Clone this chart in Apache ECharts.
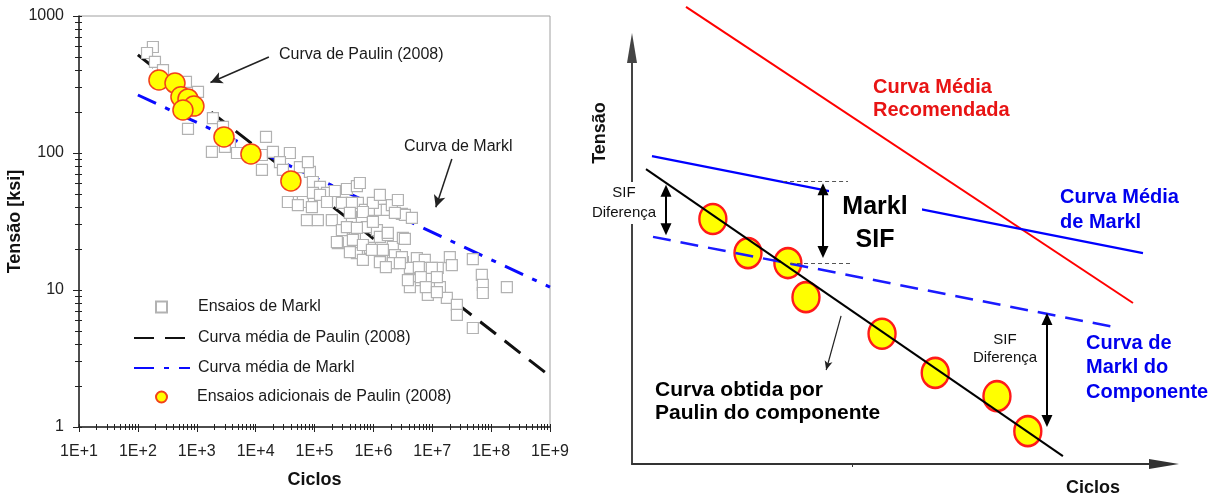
<!DOCTYPE html>
<html>
<head>
<meta charset="utf-8">
<script src="https://cdn.jsdelivr.net/npm/echarts@6/dist/echarts.min.js"></script>
<style>
  html, body { margin: 0; padding: 0; background: #fff; }
  #chart { width: 1219px; height: 497px; }
</style>
</head>
<body>
<div id="chart"></div>
<script>
// ---------- S-N data (left panel): [cycles, stress in ksi] ----------
const marklTests = [
  [180, 594], [143, 537], [195, 462], [267, 403], [656, 330], [1050, 279],
  [710, 150], [1880, 180], [2790, 155], [1810, 102], [3660, 114], [4820, 100],
  [3010, 111], [15000, 131], [12800, 96.7], [19700, 102], [38200, 100], [25900, 85.9],
  [12800, 75.2], [29100, 75.2], [56500, 79.0], [83600, 72.7], [77300, 85.9], [94000, 61.4],
  [1.24e5, 56.5], [42900, 43.9], [63500, 43.9], [94000, 51.1], [1.63e5, 51.1], [2.22e5, 52.8],
  [3.55e5, 54.6], [5.25e5, 57.4], [35300, 43.9], [52200, 41.7], [90300, 40.3], [1.24e5, 49.4],
  [1.63e5, 43.9], [74300, 32.4], [1.14e5, 32.4], [1.97e5, 32.4], [2.49e5, 22.0], [2.92e5, 27.4],
  [4.32e5, 31.4], [5.46e5, 43.2], [6.38e5, 34.1], [7.18e5, 38.4], [9.82e5, 38.4], [1.29e6, 38.4],
  [1.69e6, 38.4], [2.06e6, 41.7], [3.05e6, 35.9], [7.76e5, 28.8], [1.15e6, 27.4], [4.85e5, 24.0],
  [5.25e5, 18.6], [8.73e5, 20.3], [1.29e6, 24.4], [1.76e6, 25.2], [2.14e6, 20.6], [3.17e6, 24.0],
  [2.14e6, 17.4], [3.17e6, 16.0], [1.29e6, 16.0], [6.64e5, 16.6], [3.99e5, 18.9], [2.92e5, 43.2],
  [4.32e5, 43.2], [9.82e5, 43.2], [3.43e6, 35.3], [2.32e6, 36.5], [6.64e5, 37.1], [3.99e5, 36.5],
  [3.55e5, 28.8], [5.25e5, 28.4], [9.82e5, 31.4], [1.76e6, 26.1], [3.43e6, 23.6], [2.40e5, 22.4],
  [4.49e5, 23.2], [6.64e5, 21.3], [9.44e5, 19.6], [1.45e6, 19.6], [2.32e6, 18.0], [2.14e6, 15.7],
  [5.48e6, 17.1], [7.48e6, 16.6], [1.24e7, 14.5], [1.99e7, 17.4], [2.15e7, 15.2], [4.89e7, 16.8],
  [6.95e7, 12.9], [7.23e7, 10.9], [7.23e7, 9.51], [1.85e8, 10.5], [4.17e6, 14.5], [6.92e6, 14.5],
  [8.09e6, 12.2], [5.07e6, 11.8], [9.10e6, 10.5], [8.41e6, 9.20], [1.35e7, 10.5], [1.77e7, 8.75],
  [2.62e7, 7.78], [2.62e7, 6.58], [4.89e7, 5.28], [4.17e6, 10.5], [3.05e6, 17.4], [1.63e6, 14.7],
  [2.82e6, 15.7], [3.86e6, 11.8], [5.92e6, 14.7], [9.84e6, 14.5], [6.40e6, 12.4], [1.20e7, 12.4],
  [7.78e6, 10.5], [1.20e7, 9.66], [5.90e5, 60.4], [1.29e6, 49.4], [2.61e6, 45.4], [4.51e6, 33.6]
];
const paulinTests = [
  [228, 341], [427, 324], [539, 257], [710, 248], [896, 220], [583, 206],
  [2900, 131], [8320, 98.4], [39700, 62.5]
];
const paulinMeanCurve = [[1e2, 520], [1e9, 2.35]];
const marklMeanCurve = [[1e2, 265], [1e9, 10.5]];

// annotation arrows (left panel), [from, to] in cycles / ksi
const paulinPointer = [[16800, 502], [1710, 327]];
const marklPointer = [[2.15e7, 90.3], [1.15e7, 40.2]];

// ticks of the log axes
const xDecades = [1e1, 1e2, 1e3, 1e4, 1e5, 1e6, 1e7, 1e8, 1e9];
const xTickLabels = ['1E+1', '1E+2', '1E+3', '1E+4', '1E+5', '1E+6', '1E+7', '1E+8', '1E+9'];
const yDecades = [1, 10, 100, 1000];
const yTickLabels = ['1', '10', '100', '1000'];

// ---------- Schematic (right panel), axes in arbitrary units 0..100 ----------
const recommendedCurve = [[10.15, 109.9], [94.17, 38.7]];
const marklMeanSchematic = [[3.76, 74.0], [96.05, 50.7]];
const marklComponentCurve = [[3.95, 54.6], [91.54, 32.7]];
const paulinComponentCurve = [[2.63, 70.9], [81.0, 1.9]];
const componentTests = [
  [15.2, 58.9], [21.8, 50.7], [29.3, 48.3], [32.7, 40.1],
  [47.0, 31.3], [57.0, 21.9], [68.6, 16.3], [74.4, 7.9]
];
const sifGuides = [
  [[28.4, 68.0], [40.6, 68.0]],
  [[29.7, 48.3], [41.4, 48.3]]
];
const sifArrows = [
  [[6.39, 67.1], [6.39, 55.0]],
  [[35.9, 67.5], [35.9, 49.5]],
  [[78.0, 36.3], [78.0, 8.9]]
];
const curvePointer = [[39.3, 35.6], [36.5, 22.6]];

// ---------- helpers ----------
const FONT = '"Liberation Sans", Arial, sans-serif';
const minorOf = (decades) => {
  const out = [];
  for (let i = 0; i < decades.length - 1; i++) {
    for (let k = 2; k <= 9; k++) out.push(decades[i] * k);
  }
  return out;
};
const xMinor = minorOf(xDecades);
const yMinor = minorOf(yDecades);
const labelFor = (decades, labels) => (v) => {
  const lv = Math.log10(v);
  const i = decades.findIndex(d => Math.abs(Math.log10(d) - lv) < 1e-6);
  return i >= 0 ? labels[i] : '';
};

// right grid geometry (px) used to set arrow-head insets
const RIGHT_GRID = { left: 632, top: 48, right: 55, bottom: 33 };
const RIGHT_H = 497 - RIGHT_GRID.top - RIGHT_GRID.bottom;
const HEAD_LEN = 12;
const headInset = (HEAD_LEN / 2) * 100 / RIGHT_H;
const insetArrow = ([a, b]) => {
  const dir = b[1] < a[1] ? -1 : 1;
  return [{ coord: [a[0], a[1] + dir * headInset] }, { coord: [b[0], b[1] - dir * headInset] }];
};

const tri = 'path://M5,0L10,12L0,12Z';
const axisArrow = 'path://M5,0L10,30L0,30Z';

const logX = (extra) => Object.assign({
  type: 'log', logBase: 10, gridIndex: 0, position: 'bottom',
  min: 0.999999e1, max: 1.000001e9,
  splitLine: { show: false }, axisLine: { show: false },
  axisLabel: { show: false }, axisTick: { show: false }
}, extra);
const logY = (extra) => Object.assign({
  type: 'log', logBase: 10, gridIndex: 0, position: 'left',
  min: 0.999999, max: 1000.001,
  splitLine: { show: false }, axisLine: { show: false },
  axisLabel: { show: false }, axisTick: { show: false }
}, extra);

const tickColor = '#222';
const legendText = { fontSize: 16, color: '#1a1a1a', fontFamily: FONT, lineHeight: 18 };
const legendBase = { orient: 'vertical', padding: 0, itemGap: 12, selectedMode: false, itemHeight: 11 };

const option = {
  animation: false,
  backgroundColor: '#fff',
  textStyle: { fontFamily: FONT },
  grid: [
    { left: 79, top: 16, right: 669, bottom: 70, show: true, borderColor: '#a0a0a0', borderWidth: 1, backgroundColor: 'transparent' },
    Object.assign({}, RIGHT_GRID)
  ],
  legend: [
    Object.assign({}, legendBase, {
      left: 155, top: 298, itemWidth: 11,
      textStyle: Object.assign({}, legendText, { padding: [0, 0, 0, 26] }),
      data: ['Ensaios de Markl']
    }),
    Object.assign({}, legendBase, {
      left: 133, top: 329, itemWidth: 56, itemGap: 12,
      textStyle: Object.assign({}, legendText, { padding: [0, 0, 0, 3] }),
      data: [
        { name: 'Curva média de Paulin (2008)', itemStyle: { opacity: 0 } },
        { name: 'Curva média de Markl', itemStyle: { opacity: 0 } }
      ]
    }),
    Object.assign({}, legendBase, {
      left: 155, top: 388, itemWidth: 11,
      textStyle: Object.assign({}, legendText, { padding: [0, 0, 0, 25] }),
      data: ['Ensaios adicionais de Paulin (2008)']
    })
  ],
  xAxis: [
    logX({
      axisLine: { show: true, onZero: false, lineStyle: { color: tickColor, width: 1.5 } },
      axisTick: { show: true, customValues: xDecades, length: 5, lineStyle: { color: tickColor, width: 1 } },
      axisLabel: { show: true, customValues: xDecades, formatter: labelFor(xDecades, xTickLabels), margin: 17, fontSize: 16, color: '#222', fontFamily: FONT },
      name: 'Ciclos', nameLocation: 'middle', nameGap: 44,
      nameTextStyle: { fontSize: 18, fontWeight: 'bold', color: '#111', fontFamily: FONT }
    }),
    logX({ axisTick: { show: true, customValues: xMinor, length: 3, lineStyle: { color: tickColor, width: 1 } } }),
    logX({ axisTick: { show: true, inside: true, customValues: xDecades.concat(xMinor), length: 3, lineStyle: { color: tickColor, width: 1 } } }),
    {
      type: 'value', gridIndex: 1, min: 0, max: 100, position: 'bottom',
      splitLine: { show: false }, axisLabel: { show: false },
      axisTick: { show: true, customValues: [41.4], length: 3, lineStyle: { color: '#333' } },
      axisLine: { show: true, onZero: false, symbol: ['none', axisArrow], symbolSize: [10, 30], lineStyle: { color: '#333', width: 2 } }
    }
  ],
  yAxis: [
    logY({
      axisLine: { show: true, onZero: false, lineStyle: { color: tickColor, width: 1.5 } },
      axisTick: { show: true, customValues: yDecades, length: 6, lineStyle: { color: tickColor, width: 1 } },
      axisLabel: { show: true, customValues: yDecades, formatter: labelFor(yDecades, yTickLabels), margin: 15, fontSize: 16, color: '#222', fontFamily: FONT },
      name: 'Tensão [ksi]', nameLocation: 'middle', nameGap: 41,
      nameTextStyle: { fontSize: 18, fontWeight: 'bold', color: '#111', fontFamily: FONT }
    }),
    logY({ axisTick: { show: true, customValues: yMinor, length: 4, lineStyle: { color: tickColor, width: 1 } } }),
    logY({ axisTick: { show: true, inside: true, customValues: yDecades.concat(yMinor), length: 3, lineStyle: { color: tickColor, width: 1 } } }),
    {
      type: 'value', gridIndex: 1, min: 0, max: 100, position: 'left',
      splitLine: { show: false }, axisLabel: { show: false }, axisTick: { show: false },
      axisLine: { show: true, onZero: false, symbol: ['none', axisArrow], symbolSize: [10, 30], lineStyle: { color: '#444', width: 2 } }
    }
  ],
  series: [
    // ----- left panel -----
    {
      name: 'Curva média de Paulin (2008)', type: 'line', xAxisIndex: 0, yAxisIndex: 0,
      data: paulinMeanCurve, symbol: 'none', z: 1,
      itemStyle: { color: '#111' },
      lineStyle: { color: '#111', width: 3, type: [20, 11] }
    },
    {
      name: 'Curva média de Markl', type: 'line', xAxisIndex: 0, yAxisIndex: 0,
      data: marklMeanCurve, symbol: 'none', z: 1,
      itemStyle: { color: '#0a0aff' },
      lineStyle: { color: '#0a0aff', width: 3, type: [20, 10, 5, 10] }
    },
    {
      name: 'Ensaios de Markl', type: 'scatter', xAxisIndex: 0, yAxisIndex: 0,
      data: marklTests, symbol: 'rect', symbolSize: 11, z: 3,
      itemStyle: { color: '#fff', borderColor: '#b2b2b2', borderWidth: 1.2, opacity: 1 }
    },
    {
      name: 'Ensaios adicionais de Paulin (2008)', type: 'scatter', xAxisIndex: 0, yAxisIndex: 0,
      data: paulinTests, symbol: 'circle', symbolSize: 20, z: 4,
      itemStyle: { color: '#ffff00', borderColor: '#f2401a', borderWidth: 1.5, opacity: 1 }
    },
    {
      name: 'pointers', type: 'line', xAxisIndex: 0, yAxisIndex: 0, data: [], z: 5,
      markLine: {
        silent: true, animation: false,
        symbol: ['none', 'arrow'], symbolSize: [9, 12],
        label: { show: false },
        lineStyle: { color: '#222', width: 1.5, type: 'solid' },
        data: [
          [{ coord: paulinPointer[0] }, { coord: paulinPointer[1] }],
          [{ coord: marklPointer[0] }, { coord: marklPointer[1] }]
        ]
      }
    },
    // ----- right panel -----
    {
      name: 'Ensaios do componente', type: 'scatter', xAxisIndex: 3, yAxisIndex: 3,
      data: componentTests, symbol: 'circle', symbolSize: [27, 30], z: 2,
      itemStyle: { color: '#ffff00', borderColor: '#ff1a1a', borderWidth: 2.5, opacity: 1 }
    },
    {
      name: 'Curva Média Recomendada', type: 'line', xAxisIndex: 3, yAxisIndex: 3, clip: false,
      data: recommendedCurve, symbol: 'none', z: 3,
      lineStyle: { color: '#ff0000', width: 2 }
    },
    {
      name: 'Curva Média de Markl', type: 'line', xAxisIndex: 3, yAxisIndex: 3,
      data: marklMeanSchematic, symbol: 'none', z: 3,
      lineStyle: { color: '#0000ff', width: 2.2 }
    },
    {
      name: 'Curva de Markl do Componente', type: 'line', xAxisIndex: 3, yAxisIndex: 3,
      data: marklComponentCurve, symbol: 'none', z: 3,
      lineStyle: { color: '#1a1aff', width: 2.5, type: [18, 10] }
    },
    {
      name: 'Curva obtida por Paulin do componente', type: 'line', xAxisIndex: 3, yAxisIndex: 3,
      data: paulinComponentCurve, symbol: 'none', z: 3,
      lineStyle: { color: '#000', width: 2 }
    },
    {
      name: 'guides', type: 'line', xAxisIndex: 3, yAxisIndex: 3, data: [], z: 4,
      markLine: {
        silent: true, animation: false, symbol: ['none', 'none'],
        label: { show: false },
        lineStyle: { color: '#555', width: 1, type: [4, 3] },
        data: sifGuides.map(([a, b]) => [{ coord: a }, { coord: b }])
      }
    },
    {
      name: 'sif arrows', type: 'line', xAxisIndex: 3, yAxisIndex: 3, data: [], z: 4,
      markLine: {
        silent: true, animation: false, symbol: [tri, tri], symbolSize: [11, HEAD_LEN],
        label: { show: false },
        lineStyle: { color: '#000', width: 2, type: 'solid' },
        data: sifArrows.map(insetArrow)
      }
    },
    {
      name: 'curve pointer', type: 'line', xAxisIndex: 3, yAxisIndex: 3, data: [], z: 4,
      markLine: {
        silent: true, animation: false, symbol: ['none', 'arrow'], symbolSize: [6, 9],
        label: { show: false },
        lineStyle: { color: '#222', width: 1.2, type: 'solid' },
        data: [[{ coord: curvePointer[0] }, { coord: curvePointer[1] }]]
      }
    }
  ],
  graphic: [
    // left panel annotations
    { type: 'text', x: 279, y: 55, z: 100, style: { text: 'Curva de Paulin (2008)', font: '16px ' + FONT, fill: '#1a1a1a', align: 'left', verticalAlign: 'middle' } },
    { type: 'text', x: 404, y: 147, z: 100, style: { text: 'Curva de Markl', font: '16px ' + FONT, fill: '#1a1a1a', align: 'left', verticalAlign: 'middle' } },
    // right panel labels
    { type: 'text', x: 600, y: 133, rotation: Math.PI / 2, z: 100, style: { text: 'Tensão', font: 'bold 18px ' + FONT, fill: '#111', align: 'center', verticalAlign: 'middle' } },
    { type: 'text', x: 1093, y: 488, z: 100, style: { text: 'Ciclos', font: 'bold 18px ' + FONT, fill: '#111', align: 'center', verticalAlign: 'middle' } },
    { type: 'text', x: 873, y: 98.5, z: 100, style: { text: 'Curva Média\nRecomendada', font: 'bold 20px ' + FONT, lineHeight: 23, fill: '#e81414', align: 'left', verticalAlign: 'middle' } },
    { type: 'text', x: 1060, y: 209.5, z: 100, style: { text: 'Curva Média\nde Markl', font: 'bold 20px ' + FONT, lineHeight: 25, fill: '#0000ee', align: 'left', verticalAlign: 'middle' } },
    { type: 'text', x: 1086, y: 367.5, z: 100, style: { text: 'Curva de\nMarkl do\nComponente', font: 'bold 20px ' + FONT, lineHeight: 24.5, fill: '#0000ee', align: 'left', verticalAlign: 'middle' } },
    { type: 'rect', z: 100, shape: { x: 829, y: 189, width: 93, height: 68 }, style: { fill: '#fff' } },
    { type: 'text', x: 875, y: 223.5, z: 101, style: { text: 'Markl\nSIF', font: 'bold 25px ' + FONT, lineHeight: 33, fill: '#000', align: 'center', verticalAlign: 'middle' } },
    { type: 'text', x: 655, y: 401.5, z: 100, style: { text: 'Curva obtida por\nPaulin do componente', font: 'bold 21px ' + FONT, lineHeight: 23, fill: '#000', align: 'left', verticalAlign: 'middle' } },
    { type: 'text', x: 624, y: 203, z: 100, style: { text: 'SIF\nDiferença', font: '15px ' + FONT, lineHeight: 20, fill: '#111', align: 'center', verticalAlign: 'middle', backgroundColor: '#fff', padding: [1, 1] } },
    { type: 'text', x: 1005, y: 349, z: 100, style: { text: 'SIF\nDiferença', font: '15px ' + FONT, lineHeight: 18, fill: '#111', align: 'center', verticalAlign: 'middle' } }
  ]
};

const chart = echarts.init(document.getElementById('chart'), null, { renderer: 'canvas' });
chart.setOption(option);
</script>
</body>
</html>
